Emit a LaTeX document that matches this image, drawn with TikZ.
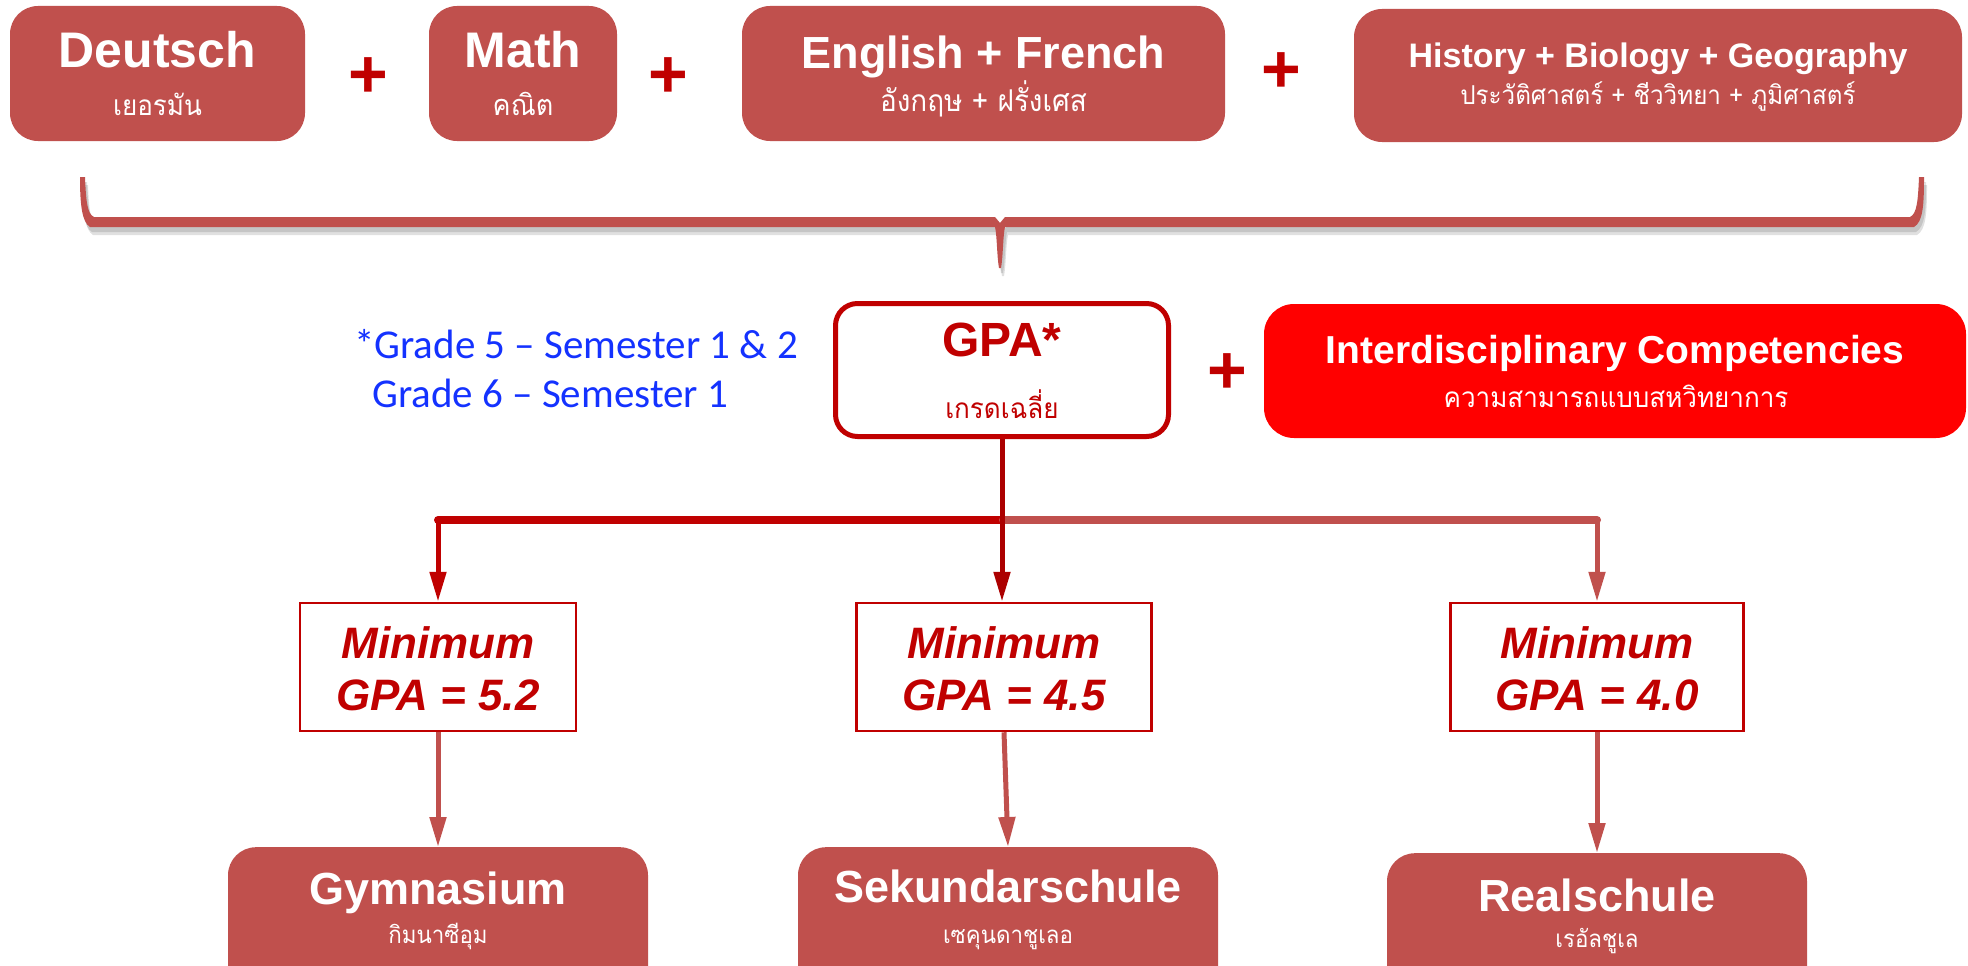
\documentclass[tikz,border=0pt]{standalone}
\usepackage{fontspec}
\setmainfont{Liberation Sans}
\newfontfamily\thai[Script=Thai,FakeStretch=0.93]{Loma}
\newfontfamily\calib{Carlito}
\usetikzlibrary{arrows.meta}

\definecolor{boxred}{RGB}{192,80,77}
\definecolor{darkred}{RGB}{192,0,0}
\definecolor{deepred}{RGB}{172,0,0}
\definecolor{brightred}{RGB}{255,0,0}
\definecolor{noteblue}{RGB}{20,50,255}

\newcommand{\fsz}[1]{\fontsize{#1}{#1}\selectfont}
\newcommand{\bracepath}{(80,177) -- (85,177) .. controls (86,200) and (87,214) .. (94,217)
  -- (995,217) -- (1000,223) -- (1005,217) -- (1910,217)
  .. controls (1917,214) and (1918,200) .. (1919,177) -- (1924,177)
  .. controls (1924,205) and (1923,222) .. (1914,227) -- (1005,227)
  .. controls (1003,235) and (1003,258) .. (1001,268) -- (999,268)
  .. controls (997,258) and (997,235) .. (995,227) -- (90,227)
  .. controls (82,222) and (80,205) .. (80,177) -- cycle}

\tikzset{
  subject/.style={fill=boxred, rounded corners=28, minimum height=135, inner sep=0},
  headtext/.style={text=white, anchor=base, inner sep=0, font=\bfseries\fsz{#1}},
  thaitext/.style={text=white, anchor=base, inner sep=0, font=\thai\fsz{#1}},
  plussign/.style={text=darkred, inner sep=0, font=\bfseries\fsz{68}},
  minbox/.style={draw=darkred, line width=2.5, fill=white, minimum height=128, inner sep=0},
  mintext/.style={text=darkred, anchor=base, inner sep=0, font=\bfseries\itshape\fsz{44}},
  note/.style={text=noteblue, anchor=base west, inner sep=0, font=\calib\fsz{41}},
  tip/.style={-{Triangle[length=30pt,width=16pt]}},
}

\begin{document}
\begin{tikzpicture}[x=1pt,y=-1pt]
\useasboundingbox (0,0) rectangle (1968,966);
\clip (0,0) rectangle (1968,966);

% subjects
\node[subject, minimum width=295] (deutsch) at (157.5,73.5) {};
\node[headtext=50] (deutschT) at (157.5,68) {Deutsch};
\node[thaitext=28] (deutschS) at (157.5,115) {เยอรมัน};
\node[plussign] (plusA) at (368,78) {+};
\node[subject, minimum width=188] (math) at (523,73.5) {};
\node[headtext=50] (mathT) at (523,68) {Math};
\node[thaitext=29] (mathS) at (523,115) {คณิต};
\node[plussign] (plusB) at (668,78) {+};
\node[subject, minimum width=483] (lang) at (983.5,73.5) {};
\node[headtext=45] (langT) at (983.5,69) {English + French};
\node[thaitext=30] (langS) at (983.5,111) {อังกฤษ + ฝรั่งเศส};
\node[plussign] (plusC) at (1281,73) {+};
\node[subject, minimum width=608, minimum height=133] (sci) at (1658,75.5) {};
\node[headtext=34] (sciT) at (1658,68) {History + Biology + Geography};
\node[thaitext=26] (sciS) at (1658,104) {ประวัติศาสตร์ + ชีววิทยา + ภูมิศาสตร์};

% brace with its shadow
\fill[black, opacity=.12, shift={(3,8)}] \bracepath;
\fill[black, opacity=.12, shift={(2,5)}] \bracepath;
\fill[boxred] \bracepath;

% GPA and competencies
\node[note] (note1) at (354,358) {*Grade 5 – Semester 1 \& 2};
\node[note] (note2) at (372,407) {Grade 6 – Semester 1};
\node[draw=darkred, line width=5, fill=white, rounded corners=22, minimum width=333,
  minimum height=133, inner sep=0] (gpa) at (1002,370) {};
\node[headtext=48, text=darkred] (gpaT) at (1002,356) {GPA*};
\node[thaitext=28, text=darkred] (gpaS) at (1002,418) {เกรดเฉลี่ย};
\node[plussign] (plusD) at (1227,374) {+};
\node[fill=brightred, rounded corners=30, minimum width=702, minimum height=134,
  inner sep=0] (comp) at (1615,371) {};
\node[headtext=39] (compT) at (1615,363) {Interdisciplinary Competencies};
\node[thaitext=28] (compS) at (1616,407) {ความสามารถแบบสหวิทยาการ};

% minimum boxes
\node[minbox, minimum width=276] (min1) at (438,667) {};
\node[mintext] (min1a) at (438,658) {Minimum};
\node[mintext] (min1b) at (438,710) {GPA = 5.2};
\node[minbox, minimum width=295] (min2) at (1004,667) {};
\node[mintext] (min2a) at (1004,658) {Minimum};
\node[mintext] (min2b) at (1004,710) {GPA = 4.5};
\node[minbox, minimum width=293] (min3) at (1597,667) {};
\node[mintext] (min3a) at (1597,658) {Minimum};
\node[mintext] (min3b) at (1597,710) {GPA = 4.0};

% schools
\node[subject, minimum width=420, minimum height=200, anchor=north] (gym) at (438,847) {};
\node[headtext=45] (gymT) at (438,904) {Gymnasium};
\node[thaitext=24] (gymS) at (438,943) {กิมนาซีอุม};
\node[subject, minimum width=420, minimum height=200, anchor=north] (sek) at (1008,847) {};
\node[headtext=45] (sekT) at (1008,902) {Sekundarschule};
\node[thaitext=24] (sekS) at (1008,943) {เซคุนดาชูเลอ};
\node[subject, minimum width=420, minimum height=200, anchor=north] (real) at (1597,853) {};
\node[headtext=45] (realT) at (1597,911) {Realschule};
\node[thaitext=24] (realS) at (1597,947) {เรอัลชูเล};

% connectors
\coordinate (hub) at (1003,520);
\coordinate (lcorner) at (438,520);
\coordinate (rcorner) at (1597,520);
\draw[darkred, line width=8, line cap=round] (hub) -- (lcorner);
\draw[boxred, line width=8, line cap=round] (hub) -- (rcorner);
\draw[darkred, line width=5, tip] (lcorner) -- (min1.north);
\draw[boxred, line width=5, tip] (rcorner) -- (min3.north);
\draw[deepred, line width=5, tip] (gpa.south) -- (gpa.south |- min2.north);
\draw[boxred, line width=5, tip] (min1.south) -- (gym.north);
\draw[boxred, line width=5, tip] (min2.south) -- (sek.north);
\draw[boxred, line width=5, tip] (min3.south) -- (real.north);
\end{tikzpicture}
\end{document}
